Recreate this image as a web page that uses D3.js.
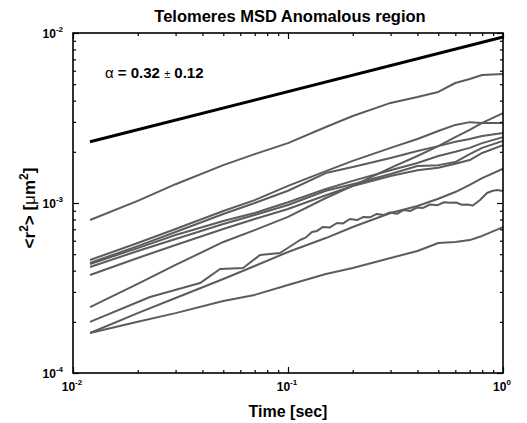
<!DOCTYPE html>
<html>
<head>
<meta charset="utf-8">
<script src="https://cdn.jsdelivr.net/npm/d3@7"></script>
<style>
  body { margin: 0; background: #fff; }
  svg { display: block; font-family: "Liberation Sans", Arial, sans-serif; }
</style>
</head>
<body>
<div id="chart"></div>
<script>
// time grid shared by most curves (sec)
const times = [0.012, 0.02, 0.03, 0.05, 0.07, 0.1, 0.15, 0.2, 0.3, 0.4, 0.5, 0.6, 0.7, 0.8, 1.0];

// MSD curves (um^2)
const msd1 = [7.94e-4, 1.03e-3, 1.29e-3, 1.67e-3, 1.94e-3, 2.25e-3, 2.80e-3, 3.25e-3, 3.88e-3, 4.20e-3, 4.50e-3, 5.08e-3, 5.36e-3, 5.66e-3, 5.74e-3];
const msd2 = [4.62e-4, 5.82e-4, 7.03e-4, 8.97e-4, 1.04e-3, 1.26e-3, 1.54e-3, 1.77e-3, 2.11e-3, 2.38e-3, 2.65e-3, 2.88e-3, 2.99e-3, 2.96e-3, 2.96e-3];
const msd3 = [4.44e-4, 5.58e-4, 6.75e-4, 8.61e-4, 1.00e-3, 1.18e-3, 1.50e-3, 1.63e-3, 1.84e-3, 2.02e-3, 2.16e-3, 2.29e-3, 2.38e-3, 2.48e-3, 2.58e-3];
const msd4 = [4.38e-4, 5.43e-4, 6.48e-4, 7.83e-4, 8.73e-4, 1.01e-3, 1.21e-3, 1.35e-3, 1.56e-3, 1.72e-3, 1.89e-3, 2.00e-3, 2.11e-3, 2.25e-3, 2.44e-3];
const msd5 = [4.20e-4, 5.22e-4, 6.14e-4, 7.52e-4, 8.50e-4, 9.73e-4, 1.18e-3, 1.29e-3, 1.48e-3, 1.65e-3, 1.67e-3, 1.74e-3, 1.94e-3, 2.11e-3, 2.32e-3];
const msd6 = [3.77e-4, 4.75e-4, 5.66e-4, 7.03e-4, 8.05e-4, 9.22e-4, 1.11e-3, 1.26e-3, 1.44e-3, 1.56e-3, 1.61e-3, 1.70e-3, 1.79e-3, 1.97e-3, 2.19e-3];
const msd7 = [2.44e-4, 3.34e-4, 4.32e-4, 5.90e-4, 6.93e-4, 8.28e-4, 1.07e-3, 1.26e-3, 1.61e-3, 1.89e-3, 2.16e-3, 2.44e-3, 2.69e-3, 2.96e-3, 3.38e-3];
const msd8 = [1.72e-4, 2.25e-4, 2.76e-4, 3.57e-4, 4.26e-4, 5.15e-4, 6.22e-4, 7.22e-4, 8.73e-4, 9.60e-4, 1.06e-3, 1.16e-3, 1.28e-3, 1.40e-3, 1.59e-3];
const msd9 = [1.72e-4, 2.00e-4, 2.25e-4, 2.65e-4, 2.88e-4, 3.29e-4, 3.82e-4, 4.15e-4, 4.75e-4, 5.22e-4, 5.82e-4, 5.90e-4, 6.05e-4, 6.40e-4, 7.22e-4];

// the jagged curve has its own, denser time samples
const timesW = [0.012, 0.0228, 0.039, 0.0483, 0.0618, 0.0741, 0.0918, 0.1138, 0.1213, 0.1293, 0.1365,
  0.1455, 0.1568, 0.169, 0.1803, 0.194, 0.2094, 0.2233, 0.2406, 0.259, 0.2796, 0.298, 0.321, 0.3464,
  0.3694, 0.398, 0.425, 0.4576, 0.4932, 0.5315, 0.566, 0.6045, 0.644, 0.6802, 0.724, 0.782, 0.843,
  0.889, 0.938, 1.0];
const msdW = [2.00e-4, 2.80e-4, 3.38e-4, 4.09e-4, 4.15e-4, 4.94e-4, 5.08e-4, 6.06e-4, 6.28e-4, 6.75e-4, 6.85e-4,
  7.23e-4, 7.18e-4, 7.63e-4, 7.58e-4, 8.05e-4, 7.94e-4, 8.27e-4, 8.24e-4, 8.62e-4, 8.50e-4, 8.79e-4, 8.64e-4, 9.10e-4,
  8.97e-4, 9.41e-4, 9.35e-4, 9.80e-4, 9.69e-4, 1.01e-3, 1.003e-3, 1.006e-3, 9.76e-4, 9.80e-4, 9.67e-4, 1.041e-3, 1.145e-3,
  1.177e-3, 1.193e-3, 1.177e-3];

// power-law fit line
const fitTimes = [0.012, 1.0];
const fitMsd = [2.29e-3, 9.47e-3];

const xMajor = [0.01, 0.1, 1];
const yMajor = [1e-4, 1e-3, 1e-2];
const xTickLabels = ["-2", "-1", "0"];
const yTickLabels = ["-4", "-3", "-2"];

function renderChart() {
  const width = 527, height = 423;
  const margin = { top: 33, right: 24, bottom: 50, left: 73 };
  const w = width - margin.left - margin.right;
  const h = height - margin.top - margin.bottom;

  const svg = d3.select("#chart").append("svg")
    .attr("width", width)
    .attr("height", height);

  const g = svg.append("g")
    .attr("transform", `translate(${margin.left},${margin.top})`);

  const x = d3.scaleLog().domain([0.01, 1]).range([0, w]);
  const y = d3.scaleLog().domain([1e-4, 1e-2]).range([h, 0]);

  // minor ticks at 2..9 within each decade
  const minor = (lo, hi) => {
    const out = [];
    for (let d = lo; d < hi; d *= 10)
      for (let k = 2; k <= 9; k++) out.push(d * k);
    return out;
  };
  const xMinor = minor(0.01, 1);
  const yMinor = minor(1e-4, 1e-2);

  const line = d3.line()
    .x(d => x(d[0]))
    .y(d => y(d[1]));

  const grayCurves = [msd1, msd2, msd3, msd4, msd5, msd6, msd7, msd8, msd9]
    .map(vals => times.map((t, i) => [t, vals[i]]));
  grayCurves.push(timesW.map((t, i) => [t, msdW[i]]));

  g.selectAll("path.curve")
    .data(grayCurves)
    .enter()
    .append("path")
    .attr("class", "curve")
    .attr("d", line)
    .attr("fill", "none")
    .attr("stroke", "#5c5c5c")
    .attr("stroke-width", 2)
    .attr("stroke-linejoin", "round");

  g.append("path")
    .attr("d", line(fitTimes.map((t, i) => [t, fitMsd[i]])))
    .attr("fill", "none")
    .attr("stroke", "#000")
    .attr("stroke-width", 3);

  // axes with inward ticks on all four sides
  const addAxis = (axisFn, scale, vals, size, tr) => {
    const a = g.append("g")
      .attr("transform", tr)
      .call(axisFn(scale).tickValues(vals).tickSize(size).tickFormat(""));
    a.select(".domain").remove();
    a.selectAll("line").attr("stroke", "#000").attr("stroke-width", 1.2);
  };
  addAxis(d3.axisBottom, x, xMajor, -6, `translate(0,${h})`);
  addAxis(d3.axisBottom, x, xMinor, -3, `translate(0,${h})`);
  addAxis(d3.axisTop, x, xMajor, -6, "translate(0,0)");
  addAxis(d3.axisTop, x, xMinor, -3, "translate(0,0)");
  addAxis(d3.axisLeft, y, yMajor, -6, "translate(0,0)");
  addAxis(d3.axisLeft, y, yMinor, -3, "translate(0,0)");
  addAxis(d3.axisRight, y, yMajor, -6, `translate(${w},0)`);
  addAxis(d3.axisRight, y, yMinor, -3, `translate(${w},0)`);

  g.append("rect")
    .attr("width", w)
    .attr("height", h)
    .attr("fill", "none")
    .attr("stroke", "#000")
    .attr("stroke-width", 1.6);

  // tick labels 10^n
  const power = (sel, exp) => {
    sel.append("tspan").text("10");
    sel.append("tspan").attr("dy", -6).attr("font-size", 8).text(exp);
  };
  xMajor.forEach((v, i) => {
    const t = g.append("text")
      .attr("x", x(v) - 1)
      .attr("y", h + 18)
      .attr("text-anchor", "middle")
      .attr("font-size", 12)
      .attr("font-weight", "bold");
    power(t, xTickLabels[i]);
  });
  yMajor.forEach((v, i) => {
    const t = g.append("text")
      .attr("x", -10)
      .attr("y", y(v) + 5)
      .attr("text-anchor", "end")
      .attr("font-size", 12)
      .attr("font-weight", "bold");
    power(t, yTickLabels[i]);
  });

  // title and axis labels
  svg.append("text")
    .attr("x", margin.left + w / 2 + 2)
    .attr("y", 22)
    .attr("text-anchor", "middle")
    .attr("font-size", 16.5)
    .attr("font-weight", "bold")
    .text("Telomeres MSD Anomalous region");

  svg.append("text")
    .attr("x", margin.left + w / 2)
    .attr("y", 417)
    .attr("text-anchor", "middle")
    .attr("font-size", 16)
    .attr("font-weight", "bold")
    .text("Time [sec]");

  const yl = svg.append("text")
    .attr("transform", `translate(35,208) rotate(-90)`)
    .attr("text-anchor", "middle")
    .attr("font-size", 17)
    .attr("font-weight", "bold");
  yl.append("tspan").text("<r");
  yl.append("tspan").attr("dy", -7).attr("font-size", 12).text("2");
  yl.append("tspan").attr("dy", 7).text("> [");
  yl.append("tspan").attr("font-weight", "normal").text("\u03bc");
  yl.append("tspan").text("m");
  yl.append("tspan").attr("dy", -7).attr("font-size", 12).text("2");
  yl.append("tspan").attr("dy", 7).text("]");

  const ann = svg.append("text")
    .attr("x", 105)
    .attr("y", 78)
    .attr("font-size", 15)
    .attr("font-weight", "bold");
  ann.append("tspan").attr("font-weight", "normal").text("\u03b1");
  ann.append("tspan").text(" = 0.32 ");
  ann.append("tspan").attr("font-weight", "normal").attr("font-size", 11).text("\u00b1");
  ann.append("tspan").text(" 0.12");
}

renderChart();
</script>
</body>
</html>
